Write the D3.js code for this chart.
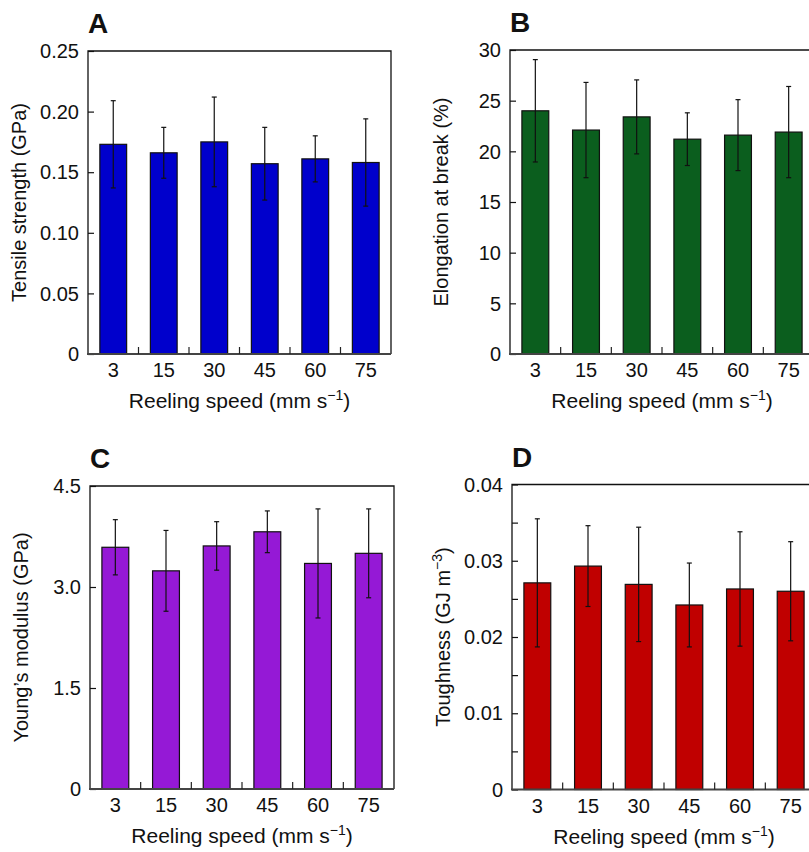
<!DOCTYPE html>
<html>
<head>
<meta charset="utf-8">
<script src="https://cdn.jsdelivr.net/npm/d3@7"></script>
<style>
  body { margin: 0; background: #fff; }
  text { font-family: "Liberation Sans", Arial, sans-serif; fill: #111; }
</style>
</head>
<body>
<svg id="chart" width="809" height="852"></svg>
<script>
// reeling speeds (mm s-1)
const speeds = ["3", "15", "30", "45", "60", "75"];

// A: tensile strength (GPa)
const strengthMean = [0.173, 0.166, 0.175, 0.157, 0.161, 0.158];
const strengthSd   = [0.036, 0.021, 0.037, 0.030, 0.019, 0.036];
const strengthTicks = [0, 0.05, 0.10, 0.15, 0.20, 0.25];

// B: elongation at break (%)
const elongMean = [24.0, 22.1, 23.4, 21.2, 21.6, 21.9];
const elongSd   = [5.05, 4.7, 3.65, 2.6, 3.5, 4.5];
const elongTicks = [0, 5, 10, 15, 20, 25, 30];

// C: Young's modulus (GPa)
const modulusMean = [3.59, 3.24, 3.61, 3.82, 3.35, 3.50];
const modulusSd   = [0.41, 0.60, 0.36, 0.31, 0.81, 0.66];
const modulusTicks = [0, 1.5, 3.0, 4.5];

// D: toughness (GJ m-3)
const toughMean = [0.0271, 0.0293, 0.0269, 0.0242, 0.0263, 0.0260];
const toughSd   = [0.0084, 0.0053, 0.0075, 0.0055, 0.0075, 0.0065];
const toughTicks = [0, 0.005, 0.01, 0.015, 0.02, 0.025, 0.03, 0.035, 0.04];
const toughLabels = [0, 0.01, 0.02, 0.03, 0.04];

const svg = d3.select("#chart");

const panels = [
  {letter: "A", left: 88, top: 51, w: 303, h: 303, mean: strengthMean, sd: strengthSd,
   max: 0.25, ticks: strengthTicks, label: d => d === 0 ? "0" : d3.format(".2f")(d),
   showLabel: () => true, color: "#0000cc", ytitle: ["Tensile strength (GPa)"]},
  {letter: "B", left: 510, top: 50, w: 304, h: 304, mean: elongMean, sd: elongSd,
   max: 30, ticks: elongTicks, label: d => String(d),
   showLabel: () => true, color: "#0b5e1e", ytitle: ["Elongation at break (%)"]},
  {letter: "C", left: 90, top: 486, w: 304, h: 303, mean: modulusMean, sd: modulusSd,
   max: 4.5, ticks: modulusTicks, label: d => d === 0 ? "0" : d3.format(".1f")(d),
   showLabel: () => true, color: "#9519d6", ytitle: ["Young\u2019s modulus (GPa)"]},
  {letter: "D", left: 512, top: 484.5, w: 304, h: 305, mean: toughMean, sd: toughSd,
   max: 0.04, ticks: toughTicks, label: d => d === 0 ? "0" : d3.format(".2f")(d),
   showLabel: d => toughLabels.some(v => Math.abs(v - d) < 1e-9), color: "#c00000",
   ytitle: ["Toughness (GJ m", "\u22123", ")"]}
];

panels.forEach(p => {
  const g = svg.append("g").attr("transform", `translate(${p.left},${p.top})`);

  const x = d3.scaleBand()
      .domain(speeds)
      .range([0, p.w])
      .paddingInner(0.47)
      .paddingOuter(0.235);

  const y = d3.scaleLinear()
      .domain([0, p.max])
      .range([p.h, 0]);

  // bars
  g.selectAll("rect.bar")
    .data(p.mean)
    .join("rect")
      .attr("class", "bar")
      .attr("x", (d, i) => x(speeds[i]))
      .attr("y", d => y(d))
      .attr("width", x.bandwidth())
      .attr("height", d => p.h - y(d))
      .attr("fill", p.color)
      .attr("stroke", "#111")
      .attr("stroke-width", 1.2);

  // error bars
  const cap = 2.5;
  const err = g.selectAll("g.err")
    .data(p.mean.map((m, i) => ({m: m, s: p.sd[i], c: speeds[i]})))
    .join("g")
      .attr("class", "err")
      .attr("transform", d => `translate(${x(d.c) + x.bandwidth() / 2},0)`)
      .attr("stroke", "#111")
      .attr("stroke-width", 1.2);
  err.append("line")
      .attr("y1", d => y(d.m + d.s)).attr("y2", d => y(d.m - d.s));
  err.append("line")
      .attr("x1", -cap).attr("x2", cap)
      .attr("y1", d => y(d.m + d.s)).attr("y2", d => y(d.m + d.s));
  err.append("line")
      .attr("x1", -cap).attr("x2", cap)
      .attr("y1", d => y(d.m - d.s)).attr("y2", d => y(d.m - d.s));

  // frame (top, right, left)
  g.append("path")
      .attr("d", `M0,${p.h}V0H${p.w}V${p.h}`)
      .attr("fill", "none")
      .attr("stroke", "#111")
      .attr("stroke-width", 1.3);

  // y axis: inward ticks
  const yAxis = d3.axisRight(y)
      .tickValues(p.ticks)
      .tickSize(6)
      .tickFormat("");
  const ya = g.append("g").call(yAxis);
  ya.select(".domain").remove();
  ya.selectAll(".tick line").attr("stroke", "#111").attr("stroke-width", 1.2);

  g.selectAll("text.ylab")
    .data(p.ticks.filter(p.showLabel))
    .join("text")
      .attr("class", "ylab")
      .attr("x", -9)
      .attr("y", d => y(d))
      .attr("dy", "0.36em")
      .attr("text-anchor", "end")
      .attr("font-size", 20)
      .text(p.label);

  // x axis: bottom line, ticks at band boundaries pointing up
  g.append("line")
      .attr("x1", -1).attr("x2", p.w)
      .attr("y1", p.h).attr("y2", p.h)
      .attr("stroke", "#444")
      .attr("stroke-width", 2);

  const gap = (x.step() - x.bandwidth()) / 2;
  g.selectAll("line.xtick")
    .data(speeds.slice(1))
    .join("line")
      .attr("class", "xtick")
      .attr("x1", d => x(d) - gap).attr("x2", d => x(d) - gap)
      .attr("y1", p.h).attr("y2", p.h - 7)
      .attr("stroke", "#222")
      .attr("stroke-width", 1.2);

  g.selectAll("text.xlab")
    .data(speeds)
    .join("text")
      .attr("class", "xlab")
      .attr("x", d => x(d) + x.bandwidth() / 2)
      .attr("y", p.h + 23)
      .attr("text-anchor", "middle")
      .attr("font-size", 20)
      .text(d => d);

  // x title
  const xt = g.append("text")
      .attr("x", p.w / 2)
      .attr("y", p.h + 54)
      .attr("text-anchor", "middle")
      .attr("font-size", 21);
  xt.append("tspan").text("Reeling speed (mm s");
  xt.append("tspan").attr("font-size", 14).attr("dy", -8).text("\u22121");
  xt.append("tspan").attr("dy", 8).text(")");

  // y title
  const yt = g.append("text")
      .attr("transform", `translate(-62,${p.h / 2}) rotate(-90)`)
      .attr("text-anchor", "middle")
      .attr("font-size", 20);
  yt.append("tspan").text(p.ytitle[0]);
  if (p.ytitle.length > 1) {
    yt.append("tspan").attr("font-size", 14).attr("dy", -8).text(p.ytitle[1]);
    yt.append("tspan").attr("dy", 8).text(p.ytitle[2]);
  }

  // panel letter
  g.append("text")
      .attr("x", 0)
      .attr("y", -18)
      .attr("font-size", 28)
      .attr("font-weight", "bold")
      .text(p.letter);
});
</script>
</body>
</html>
